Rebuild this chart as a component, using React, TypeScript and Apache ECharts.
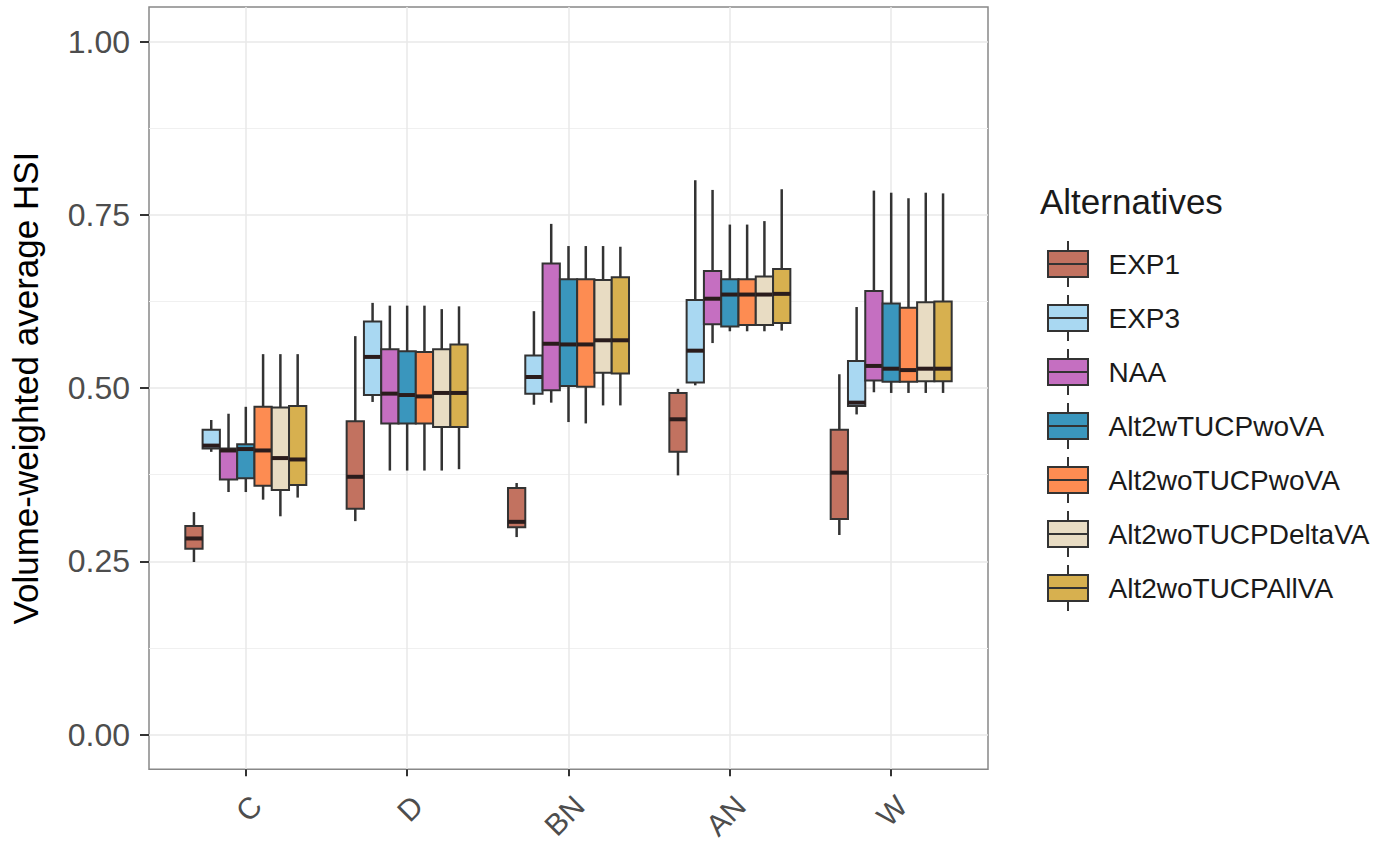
import React, { useEffect, useRef } from "react";
import * as echarts from "echarts";

const categories = ["C", "D", "BN", "AN", "W"];
const seriesNames = [
  "EXP1",
  "EXP3",
  "NAA",
  "Alt2wTUCPwoVA",
  "Alt2woTUCPwoVA",
  "Alt2woTUCPDeltaVA",
  "Alt2woTUCPAllVA",
];
const seriesColors = ["#c27260", "#a9d8f2", "#c56fc1", "#3a96bd", "#fd8c52", "#e8dcc3", "#d7b04f"];

// each entry: [min, q1, median, q3, max] for C, D, BN, AN, W
const exp1 = [
  [0.249, 0.268, 0.283, 0.301, 0.321],
  [0.308, 0.326, 0.372, 0.452, 0.575],
  [0.285, 0.299, 0.307, 0.356, 0.363],
  [0.374, 0.408, 0.455, 0.493, 0.499],
  [0.288, 0.311, 0.378, 0.44, 0.52],
];
const exp3 = [
  [0.408, 0.413, 0.417, 0.44, 0.454],
  [0.48, 0.49, 0.545, 0.596, 0.623],
  [0.476, 0.492, 0.516, 0.547, 0.611],
  [0.504, 0.508, 0.554, 0.627, 0.8],
  [0.462, 0.474, 0.479, 0.539, 0.617],
];
const naa = [
  [0.35, 0.368, 0.41, 0.413, 0.463],
  [0.381, 0.449, 0.492, 0.556, 0.619],
  [0.479, 0.497, 0.564, 0.68, 0.737],
  [0.565, 0.592, 0.629, 0.669, 0.786],
  [0.494, 0.511, 0.532, 0.64, 0.785],
];
const alt2wTUCPwoVA = [
  [0.35, 0.37, 0.412, 0.419, 0.473],
  [0.381, 0.449, 0.49, 0.553, 0.619],
  [0.451, 0.503, 0.563, 0.657, 0.705],
  [0.582, 0.589, 0.635, 0.657, 0.736],
  [0.493, 0.509, 0.528, 0.622, 0.782],
];
const alt2woTUCPwoVA = [
  [0.339, 0.359, 0.41, 0.473, 0.549],
  [0.381, 0.449, 0.488, 0.552, 0.619],
  [0.449, 0.502, 0.563, 0.657, 0.705],
  [0.582, 0.591, 0.635, 0.657, 0.736],
  [0.493, 0.509, 0.526, 0.616, 0.774],
];
const alt2woTUCPDeltaVA = [
  [0.315, 0.353, 0.399, 0.472, 0.549],
  [0.381, 0.444, 0.493, 0.556, 0.614],
  [0.475, 0.522, 0.569, 0.656, 0.705],
  [0.582, 0.591, 0.635, 0.661, 0.741],
  [0.493, 0.51, 0.528, 0.624, 0.782],
];
const alt2woTUCPAllVA = [
  [0.342, 0.36, 0.397, 0.474, 0.549],
  [0.383, 0.444, 0.493, 0.563, 0.618],
  [0.475, 0.521, 0.569, 0.66, 0.704],
  [0.583, 0.594, 0.636, 0.672, 0.787],
  [0.493, 0.51, 0.528, 0.625, 0.781],
];
const allSeries = [exp1, exp3, naa, alt2wTUCPwoVA, alt2woTUCPwoVA, alt2woTUCPDeltaVA, alt2woTUCPAllVA];
const yTicks = [0, 0.25, 0.5, 0.75, 1];
const xTicks = [1, 2, 3, 4, 5];

const FONT = "'Liberation Sans', Arial, Helvetica, sans-serif";
const STROKE = "#333333";
const DODGE = 0.75 / 7;

const legendIcon =
  "path://M20,0 L20,10 M0,10 L40,10 L40,36 L0,36 Z M0,23 L40,23 M20,36 L20,46";

export default function App() {
  const ref = useRef<HTMLDivElement>(null);
  useEffect(() => {
    if (!ref.current) return;
    const chart = echarts.init(ref.current, null, { renderer: "svg" });

    const renderItem = (params: any, api: any) => {
      const si = params.seriesIndex;
      const x = api.value(0) + (si - 3) * DODGE;
      const pMin = api.coord([x, api.value(1)]);
      const pQ1 = api.coord([x, api.value(2)]);
      const pMed = api.coord([x, api.value(3)]);
      const pQ3 = api.coord([x, api.value(4)]);
      const pMax = api.coord([x, api.value(5)]);
      const halfW = api.size([DODGE, 0])[0] / 2;
      const cx = pMed[0];
      return {
        type: "group",
        children: [
          {
            type: "line",
            shape: { x1: cx, y1: pMax[1], x2: cx, y2: pQ3[1] },
            style: { stroke: STROKE, lineWidth: 2.5 },
          },
          {
            type: "line",
            shape: { x1: cx, y1: pQ1[1], x2: cx, y2: pMin[1] },
            style: { stroke: STROKE, lineWidth: 2.5 },
          },
          {
            type: "rect",
            shape: { x: cx - halfW, y: pQ3[1], width: halfW * 2, height: pQ1[1] - pQ3[1] },
            style: { fill: seriesColors[si], stroke: STROKE, lineWidth: 2 },
          },
          {
            type: "line",
            shape: { x1: cx - halfW, y1: pMed[1], x2: cx + halfW, y2: pMed[1] },
            style: { stroke: "#2a1c1c", lineWidth: 4 },
          },
        ],
      };
    };

    const series = allSeries.map((arr, si) => ({
      name: seriesNames[si],
      type: "custom",
      renderItem,
      xAxisIndex: 0,
      yAxisIndex: 0,
      itemStyle: { color: seriesColors[si] },
      encode: { x: 0, y: [1, 2, 3, 4, 5] },
      data: arr.map((d, ci) => [ci + 1, ...d]),
    }));

    const minorColors: string[] = [];
    for (let i = 0; i < 10; i++) minorColors.push(i === 7 ? "#f0f0f0" : "rgba(0,0,0,0)");

    chart.setOption({
      animation: false,
      backgroundColor: "#ffffff",
      title: {
        text: "Alternatives",
        left: 1035,
        top: 179,
        textStyle: { fontFamily: FONT, fontSize: 35, fontWeight: "normal", color: "#1a1a1a" },
      },
      legend: {
        orient: "vertical",
        left: 1042,
        top: 235,
        itemWidth: 41,
        itemHeight: 46,
        itemGap: 6,
        icon: legendIcon,
        itemStyle: { borderColor: STROKE, borderWidth: 2 },
        textStyle: { fontFamily: FONT, fontSize: 28, color: "#1a1a1a", padding: [0, 0, 0, 15] },
        data: seriesNames,
      },
      grid: {
        left: 148,
        right: 395,
        top: 7,
        bottom: 72,
        show: true,
        borderColor: "#888888",
        borderWidth: 1.5,
        backgroundColor: "#ffffff",
      },
      xAxis: [
        {
          type: "value",
          min: 0.4,
          max: 5.6,
          interval: 0.2,
          position: "bottom",
          axisLine: { show: false, onZero: false },
          axisTick: {
            show: true,
            customValues: xTicks,
            length: 7,
            lineStyle: { color: STROKE, width: 2 },
          },
          axisLabel: {
            customValues: xTicks,
            formatter: (v: number) => categories[Math.round(v) - 1] ?? "",
            rotate: 45,
            margin: 21,
            verticalAlign: "top",
            fontFamily: FONT,
            fontSize: 30,
            color: "#4d4d4d",
          },
          splitLine: { show: true, lineStyle: { color: "#e8e8e8", width: 1.5 } },
        },
      ],
      yAxis: [
        {
          type: "value",
          min: -0.05,
          max: 1.05,
          interval: 0.025,
          position: "left",
          name: "Volume-weighted average HSI",
          nameLocation: "middle",
          nameGap: 106,
          nameTextStyle: { fontFamily: FONT, fontSize: 35, color: "#000000" },
          axisLine: { show: false, onZero: false },
          axisTick: {
            show: true,
            customValues: yTicks,
            length: 9,
            lineStyle: { color: STROKE, width: 2 },
          },
          axisLabel: {
            customValues: yTicks,
            formatter: (v: number) => v.toFixed(2),
            margin: 19,
            fontFamily: FONT,
            fontSize: 32,
            color: "#4d4d4d",
          },
          splitLine: { show: true, lineStyle: { color: "#e8e8e8", width: 1.5 } },
          z: 1,
        },
        {
          type: "value",
          min: -0.05,
          max: 1.05,
          interval: 0.025,
          position: "left",
          axisLine: { show: false, onZero: false },
          axisTick: { show: false },
          axisLabel: { show: false },
          splitLine: { show: true, lineStyle: { color: minorColors, width: 1 } },
          z: 0,
        },
      ],
      series,
    });
    return () => chart.dispose();
  }, []);
  return (
    <div
      ref={ref}
      style={{ position: "fixed", left: 0, top: 0, width: 1383, height: 843, background: "#fff" }}
    />
  );
}
